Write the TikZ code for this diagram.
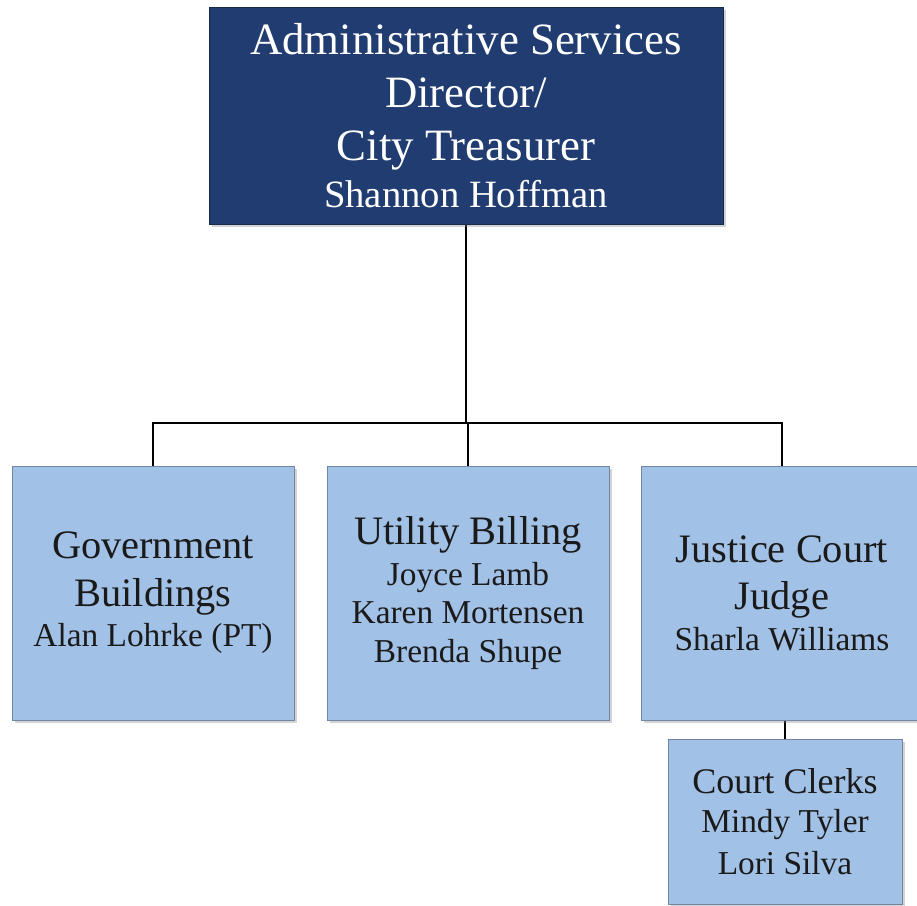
\documentclass[tikz,border=0pt]{standalone}
\usepackage{fontspec}
\setmainfont{Liberation Serif}
\usetikzlibrary{positioning, shadows, backgrounds}

\definecolor{navy}{HTML}{213C70}
\definecolor{paleblue}{HTML}{A2C1E6}
\definecolor{inkblack}{HTML}{1A1A1A}
\newcommand\namesize{\fontsize{19}{23}\selectfont}

\begin{document}
\begin{tikzpicture}[x=0.02cm, y=-0.02cm,
      headbox/.style={draw=navy!70!black, fill=navy, text=white,
        minimum width=10.28cm, minimum height=4.34cm, align=center,
        drop shadow={opacity=0.35, shadow xshift=1.5pt, shadow yshift=-1.5pt},
        font=\fontsize{25.5}{30}\selectfont},
      unitbox/.style={draw=paleblue!70!black, fill=paleblue, text=inkblack,
        minimum width=5.64cm, minimum height=5.08cm, align=center,
        drop shadow={opacity=0.35, shadow xshift=1.5pt, shadow yshift=-1.5pt},
        font=\fontsize{23}{27}\selectfont},
      link/.style={draw=black, line width=1.2pt}]
    \useasboundingbox (0,0) rectangle (917,906);
    % top
    \node[headbox] (admin) at (466,116) {Administrative Services\\Director/\\City Treasurer\\[-3pt]
      \fontsize{22}{26}\selectfont Shannon Hoffman};
    % second row
    \node[unitbox] (gov) at (153,593) {Government\\Buildings\\[-4pt]\namesize Alan Lohrke (PT)};
    \node[unitbox] (util) at (468,593) {Utility Billing\\[-4pt]\namesize Joyce Lamb\\[-5pt]
      \namesize Karen Mortensen\\[-5pt]\namesize Brenda Shupe};
    \node[unitbox] (court) at (782,593) {Justice Court\\Judge\\[-4pt]\namesize Sharla Williams};
    \node[unitbox, minimum width=4.68cm, minimum height=3.3cm,
      font=\fontsize{20.5}{24}\selectfont] (clerks) at (785,822)
      {Court Clerks\\[-2pt]\namesize Mindy Tyler\\\namesize Lori Silva};
    \coordinate (bus) at (466,423);
    % connectors
    \begin{scope}[on background layer]
    \draw[link] (admin.south) -- (bus);
    \draw[link] (bus) -| (gov.north);
    \draw[link] (bus) -| (util.north);
    \draw[link] (bus) -| (court.north);
    \draw[link] (clerks.north) -- (clerks.north |- court.south);
    \end{scope}
  \end{tikzpicture}
\end{document}
